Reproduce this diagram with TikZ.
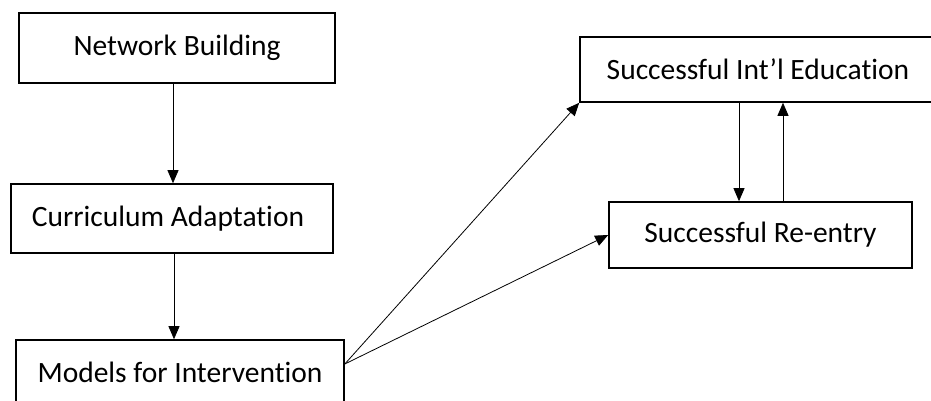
\documentclass[tikz,border=0pt]{standalone}
\usepackage{fontspec}
\setmainfont{Carlito}[Ligatures={TeX,NoCommon}]
\usetikzlibrary{arrows.meta,calc}
\tikzset{
  stepbox/.style={draw, line width=1.6pt, inner sep=0pt, font=\fontsize{29.5}{35}\selectfont},
  link/.style={->, line width=0.8pt}
}
\begin{document}
\begin{tikzpicture}[x=1pt, y=1pt, >={Triangle[length=13pt,width=11pt]}]
        \clip (0,0) rectangle (931,401);
        \fill[white] (0,0) rectangle (931,401);
        % left column
        \node[stepbox, minimum width=316pt, minimum height=70pt] (net) at (177,353) {Network Building};
        \node[stepbox, minimum width=322pt, minimum height=69pt] (curr) at (172,182.5) {\hspace*{-8pt}Curriculum Adaptation};
        \node[stepbox, minimum width=328pt, minimum height=70pt] (mod) at (180,26) {\raisebox{5pt}{Models for Intervention}};
        % right column
        \node[stepbox, minimum width=356pt, minimum height=65pt] (intl) at (758,331.5) {Successful Int'l Education};
        \node[stepbox, minimum width=303pt, minimum height=66pt] (reentry) at (760.5,166) {Successful Re-entry};
        \coordinate (modout) at ([yshift=11pt]mod.east);
        \draw[link] ([xshift=-4pt]net.south) -- ([xshift=-4pt]net.south |- curr.north);
        \draw[link] ([xshift=2pt]curr.south) -- ([xshift=2pt]curr.south |- mod.north);
        \draw[link] (modout) -- (intl.south west);
        \draw[link] (modout) -- (reentry.west);
        \draw[link] ([xshift=-19pt]intl.south) -- ([xshift=-19pt]intl.south |- reentry.north);
        \draw[link] ([xshift=25pt]intl.south |- reentry.north) -- ([xshift=25pt]intl.south);
\end{tikzpicture}
\end{document}
